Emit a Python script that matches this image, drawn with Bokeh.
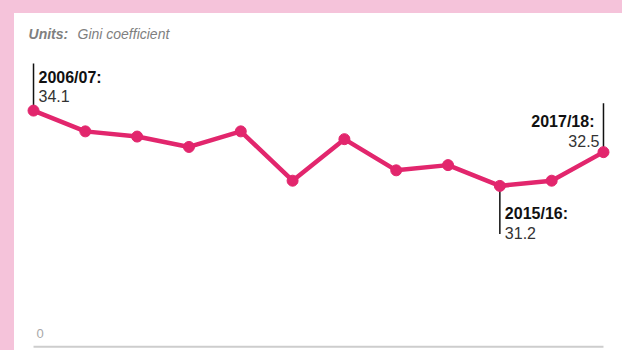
import numpy as np
from bokeh.plotting import figure
from bokeh.models import Range1d
from bokeh.embed import file_html
from bokeh.resources import INLINE
from bokeh.core.properties import value

# ---- data ----
years = ["2006/07", "2007/08", "2008/09", "2009/10", "2010/11", "2011/12",
         "2012/13", "2013/14", "2014/15", "2015/16", "2016/17", "2017/18"]
gini = [34.1, 33.3, 33.1, 32.7, 33.3, 31.4, 33.0, 31.8, 32.0, 31.2, 31.4, 32.5]
axis_floor = 25.0          # value where the (broken) axis baseline sits
floor_label = "0"
units_bold = "Units:"
units_text = "Gini coefficient"
callouts_up_left = [0]     # label above, text to right of leader
callouts_up_right = [11]   # label above, text to left of leader
callouts_down = [9]        # label below, text to right of leader

# ---- style ----
PINK_BG = "#f5c3da"
LINE_C = "#e2266d"
FONT = value("Liberation Sans")

xs = list(range(len(years)))

p = figure(width=608, height=337, output_backend="svg", toolbar_location=None,
           x_range=Range1d(-0.367, 11.367), y_range=Range1d(24.86, 37.84),
           x_axis_location=None, y_axis_location=None,
           min_border_left=0, min_border_top=0, min_border_right=0, min_border_bottom=0,
           border_fill_color="white", background_fill_color="white",
           outline_line_color=None)
p.grid.visible = False

# baseline
p.line([xs[0], xs[-1]], [axis_floor, axis_floor], line_color="#cdcdcd", line_width=2)
p.text([xs[0]], [axis_floor], text=[floor_label], text_font=FONT, text_font_size="13px",
       text_color="#a8a8a8", text_baseline="alphabetic", x_offset=3, y_offset=-13)

# units
p.text([xs[0]], [p.y_range.end], text=[units_bold], text_font=FONT, text_font_size="14px",
       text_font_style="bold italic", text_color="#7f7f7f", text_baseline="alphabetic",
       x_offset=-5, y_offset=20)
p.text([xs[0]], [p.y_range.end], text=[units_text], text_font=FONT, text_font_size="14px",
       text_font_style="italic", text_color="#7f7f7f", text_baseline="alphabetic",
       x_offset=44, y_offset=20)

# leader lines
p.ray([xs[i] for i in callouts_up_left], [gini[i] for i in callouts_up_left],
      length=47, length_units="screen", angle=np.pi / 2, line_color="#111111", line_width=1.5)
p.ray([xs[i] for i in callouts_up_right], [gini[i] for i in callouts_up_right],
      length=49, length_units="screen", angle=np.pi / 2, line_color="#111111", line_width=1.5)
p.ray([xs[i] for i in callouts_down], [gini[i] for i in callouts_down],
      length=48, length_units="screen", angle=-np.pi / 2, line_color="#111111", line_width=1.5)

# series
p.line(xs, gini, line_color=LINE_C, line_width=4.5, line_join="round")
p.scatter(xs, gini, size=11, fill_color=LINE_C, line_color=LINE_C)

# callout texts
def callout(idxs, align, dx, dy_head, dy_val, dx_val=None):
    if dx_val is None:
        dx_val = dx
    xx = [xs[i] for i in idxs]
    yy = [gini[i] for i in idxs]
    p.text(xx, yy, text=[years[i] + ":" for i in idxs], text_font=FONT, text_font_size="16px",
           text_font_style="bold", text_color="#111111", text_align=align,
           text_baseline="alphabetic", x_offset=dx, y_offset=dy_head)
    p.text(xx, yy, text=[f"{gini[i]:.1f}" for i in idxs], text_font=FONT, text_font_size="16px",
           text_color="#333333", text_align=align, text_baseline="alphabetic",
           x_offset=dx_val, y_offset=dy_val)

callout(callouts_up_left, "left", 5, -33, -15)
callout(callouts_up_right, "right", -9, -31, -11, -4)
callout(callouts_down, "left", 5, 28, 47)

html = file_html(p, INLINE, title="Gini coefficient")
css = ("<style>html{background:#ffffff;}"
       "body{margin:0!important;padding:13px 0 0 14px!important;overflow:hidden;"
       "background:linear-gradient(%s,%s) left top/100%% 13px no-repeat,"
       "linear-gradient(%s,%s) left top/14px 100%% no-repeat,#ffffff;"
       "min-height:350px;box-sizing:border-box;}</style>" % (PINK_BG, PINK_BG, PINK_BG, PINK_BG))
html = html.replace("</head>", css + "</head>", 1)
open("out.html", "w").write(html)
